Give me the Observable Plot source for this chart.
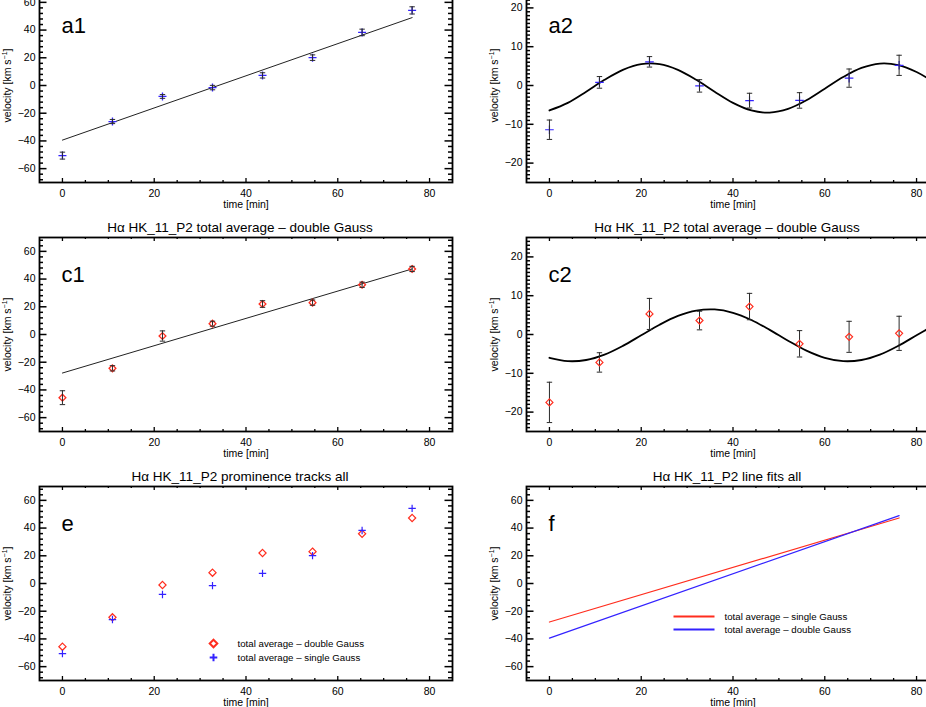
<!DOCTYPE html>
<html><head><meta charset="utf-8">
<script src="https://cdn.jsdelivr.net/npm/d3@7"></script>
<script src="https://cdn.jsdelivr.net/npm/@observablehq/plot@0.6"></script>
<style>
html,body{margin:0;padding:0;background:#fff;}
#fig{position:relative;width:926px;height:707px;overflow:hidden;background:#fff;}
.panel{position:absolute;}
</style></head><body><div id="fig"></div>
<script>
// ---- data ----
const times = [0, 10.9, 21.8, 32.7, 43.6, 54.5, 65.3, 76.2];
const singleGauss = [-50.6, -26.0, -7.9, -1.5, 7.3, 20.1, 38.3, 54.2];
const doubleGauss = [-45.6, -24.4, -1.1, 7.8, 22.0, 23.0, 35.9, 47.3];
const singleResid = [-11.4, 0.8, 6.1, -0.1, -3.9, -3.85, 1.9, 5.2];
const doubleResid = [-17.5, -7.2, 5.3, 3.6, 7.2, -2.4, -0.6, 0.3];
const singleErr = [2.5, 1.5, 1.35, 1.6, 1.9, 2.0, 2.35, 2.6];
const doubleErrTotal = [5.0, 1.9, 3.7, 1.8, 2.4, 1.9, 1.9, 1.9];
const doubleErrResid = [5.2, 2.5, 4.0, 2.4, 3.4, 3.4, 4.0, 4.4];
const fitTimes = [0, 76.2];
const singleFit = [-39.4, 49.0];
const doubleFit = [-27.8, 47.3];
const curveTimes = [0,4,8,12,16,20,24,28,32,36,40,44,48,52,56,60,64,68,72,76,80,84];
const singleSine = [-6.43,-4.48,-1.62,1.46,4.04,5.51,5.51,4.04,1.46,-1.62,-4.48,-6.43,-6.99,-6.05,-3.82,-0.84,2.17,4.53,5.65,5.27,3.48,0.71];
const doubleSine = [-6.00,-6.86,-6.57,-5.18,-2.92,-0.20,2.52,4.78,6.17,6.46,5.60,3.74,1.19,-1.59,-4.14,-6.00,-6.86,-6.57,-5.18,-2.92,-0.20,2.52];
const titleDouble = "H\u03b1 HK_11_P2 total average \u2013 double Gauss";
const titleTracks = "H\u03b1 HK_11_P2 prominence tracks all";
const titleFits = "H\u03b1 HK_11_P2 line fits all";
const legendE = ["total average \u2013 double Gauss", "total average \u2013 single Gauss"];
const legendF = ["total average \u2013 single Gauss", "total average \u2013 double Gauss"];
const xMajor = [0, 20, 40, 60, 80];
const velMajor = [-60, -40, -20, 0, 20, 40, 60];
const residMajor = [-20, -10, 0, 10, 20];

// ---- styles ----
const RED = "#ff2d1e", BLUE = "#3322ff", BAR = "#2a2a2a";
const FW = 413, FH = 194;
const FONT = "'Liberation Sans', Arial, Helvetica, sans-serif";

const plusSym = {draw(c, s){const r=Math.sqrt(s/Math.PI); c.moveTo(-r,0); c.lineTo(r,0); c.moveTo(0,-r); c.lineTo(0,r);}};
const diamondSym = {draw(c, s){const r=Math.sqrt(s/Math.PI); c.moveTo(0,-r); c.lineTo(r,0); c.lineTo(0,r); c.lineTo(-r,0); c.closePath();}};
const hlineSym = {draw(c, s){const r=Math.sqrt(s/Math.PI); c.moveTo(-r,0); c.lineTo(r,0);}};

const rows = (vals, errs) => times.map((t, i) => ({t, v: vals[i], e: errs ? errs[i] : 0}));
const series = (xs, ys) => xs.map((t, i) => ({t, v: ys[i]}));

function errorMarks(data) {
  return [
    Plot.ruleX(data, {x: "t", y1: d => d.v - d.e, y2: d => d.v + d.e, stroke: BAR, strokeWidth: 1}),
    Plot.dot(data, {x: "t", y: d => d.v - d.e, symbol: hlineSym, r: 2.7, stroke: BAR, fill: "none", strokeWidth: 1}),
    Plot.dot(data, {x: "t", y: d => d.v + d.e, symbol: hlineSym, r: 2.7, stroke: BAR, fill: "none", strokeWidth: 1})
  ];
}

function tickMarks(yMaj, yMin) {
  const xMin = d3.range(5, 85, 5).filter(v => v % 20 !== 0);
  const st = {stroke: "black"};
  return [
    Plot.ruleY(yMaj, {...st, strokeWidth: 1.5, insetRight: FW - 7.5}),
    Plot.ruleY(yMin, {...st, strokeWidth: 1.5, insetRight: FW - 4}),
    Plot.ruleY(yMaj, {...st, strokeWidth: 1.5, insetLeft: FW - 7.5}),
    Plot.ruleY(yMin, {...st, strokeWidth: 1.5, insetLeft: FW - 4}),
    Plot.ruleX(xMajor, {...st, strokeWidth: 1.3, insetTop: FH - 4}),
    Plot.ruleX(xMin, {...st, strokeWidth: 1.3, insetTop: FH - 2}),
    Plot.ruleX(xMajor, {...st, strokeWidth: 1.3, insetBottom: FH - 4}),
    Plot.ruleX(xMin, {...st, strokeWidth: 1.3, insetBottom: FH - 2})
  ];
}

const fig = document.getElementById("fig");

function panel({col, row, yDomain, yMajor, yMinor, title, letter, marks}) {
  const L = col === 0 ? {left: 0, width: 463, mL: 39} : {left: 463, width: 490, mL: 63};
  const mT = 30, mB = 36;
  const top = [-12, 237, 486][row] - mT;
  const plot = Plot.plot({
    width: L.width, height: mT + FH + mB,
    marginLeft: L.mL, marginRight: L.width - L.mL - FW, marginTop: mT, marginBottom: mB,
    style: {background: "transparent", overflow: "visible", maxWidth: "none", fontFamily: FONT, fontSize: "10.5px", color: "black"},
    x: {domain: [-5, 85], ticks: xMajor, tickSize: 0, tickPadding: 7, label: null},
    y: {domain: yDomain, ticks: yMajor, tickSize: 0, tickPadding: 4, label: null},
    marks: [
      ...marks,
      ...tickMarks(yMajor, yMinor),
      Plot.frame({stroke: "black", strokeWidth: 1.8}),
      Plot.text([letter], {text: d => d, frameAnchor: "top-left", dx: 22, dy: 44, lineAnchor: "bottom", textAnchor: "start", fontSize: 22}),
      Plot.text(["time [min]"], {text: d => d, frameAnchor: "bottom", dy: 22, lineAnchor: "middle", textAnchor: "middle", fontSize: 10.5}),
      Plot.text(["VELLABEL"], {text: d => d, frameAnchor: "left", dx: -32, rotate: -90, lineAnchor: "middle", textAnchor: "middle", fontSize: 10.5}),
      ...(title ? [Plot.text([title], {text: d => d, frameAnchor: "top", dx: -6, dy: -10, lineAnchor: "middle", textAnchor: "middle", fontSize: 13.5})] : [])
    ]
  });
  d3.select(plot).selectAll("text").filter(function() { return this.textContent === "VELLABEL"; })
    .html('velocity [km s<tspan dy="-4" font-size="7">\u22121</tspan><tspan dy="4">]</tspan>');
  const div = document.createElement("div");
  div.className = "panel";
  div.style.left = L.left + "px";
  div.style.top = top + "px";
  div.style.width = L.width + "px";
  div.appendChild(plot);
  fig.appendChild(div);
}

const velMinor = d3.range(-68, 69, 4).filter(v => v % 20 !== 0);
const residMinor = d3.range(-24, 25, 1).filter(v => v % 10 !== 0);
const legendText = (s, dy) => Plot.text([s], {text: d => d, frameAnchor: "top-left", dx: 198, dy, lineAnchor: "middle", textAnchor: "start", fontSize: 9.7});

// a1
panel({col: 0, row: 0, yDomain: [-70, 70], yMajor: velMajor, yMinor: velMinor, letter: "a1", marks: [
  Plot.line(series(fitTimes, singleFit), {x: "t", y: "v", stroke: "#222", strokeWidth: 1}),
  Plot.dot(rows(singleGauss), {x: "t", y: "v", symbol: plusSym, r: 4, stroke: BLUE, fill: "none", strokeWidth: 1.3}),
  ...errorMarks(rows(singleGauss, singleErr))
]});
// a2
panel({col: 1, row: 0, yDomain: [-25, 25], yMajor: residMajor, yMinor: residMinor, letter: "a2", marks: [
  Plot.line(series(curveTimes, singleSine), {x: "t", y: "v", stroke: "black", strokeWidth: 1.8, curve: "catmull-rom"}),
  Plot.dot(rows(singleResid), {x: "t", y: "v", symbol: plusSym, r: 4.3, stroke: BLUE, fill: "none", strokeWidth: 1.2}),
  ...errorMarks(rows(singleResid, singleErr))
]});
// c1
panel({col: 0, row: 1, yDomain: [-70, 70], yMajor: velMajor, yMinor: velMinor, letter: "c1", title: titleDouble, marks: [
  Plot.line(series(fitTimes, doubleFit), {x: "t", y: "v", stroke: "#222", strokeWidth: 1}),
  Plot.dot(rows(doubleGauss), {x: "t", y: "v", symbol: diamondSym, r: 3.4, stroke: RED, fill: "none", strokeWidth: 1.3}),
  ...errorMarks(rows(doubleGauss, doubleErrTotal))
]});
// c2
panel({col: 1, row: 1, yDomain: [-25, 25], yMajor: residMajor, yMinor: residMinor, letter: "c2", title: titleDouble, marks: [
  Plot.line(series(curveTimes, doubleSine), {x: "t", y: "v", stroke: "black", strokeWidth: 1.8, curve: "catmull-rom"}),
  ...errorMarks(rows(doubleResid, doubleErrResid)),
  Plot.dot(rows(doubleResid), {x: "t", y: "v", symbol: diamondSym, r: 3.5, stroke: RED, fill: "none", strokeWidth: 1.2})
]});
// e
panel({col: 0, row: 2, yDomain: [-70, 70], yMajor: velMajor, yMinor: velMinor, letter: "e", title: titleTracks, marks: [
  Plot.dot(rows(doubleGauss), {x: "t", y: "v", symbol: diamondSym, r: 3.6, stroke: RED, fill: "none", strokeWidth: 1.2}),
  Plot.dot(rows(singleGauss), {x: "t", y: "v", symbol: plusSym, r: 3.7, stroke: BLUE, fill: "none", strokeWidth: 1.2}),
  Plot.dot([0], {frameAnchor: "top-left", dx: 174, dy: 157, symbol: diamondSym, r: 3.8, stroke: RED, fill: "none", strokeWidth: 2}),
  Plot.dot([0], {frameAnchor: "top-left", dx: 174, dy: 171, symbol: plusSym, r: 3.8, stroke: BLUE, fill: "none", strokeWidth: 2}),
  legendText(legendE[0], 157),
  legendText(legendE[1], 171)
]});
// f
panel({col: 1, row: 2, yDomain: [-70, 70], yMajor: velMajor, yMinor: velMinor, letter: "f", title: titleFits, marks: [
  Plot.line(series(fitTimes, doubleFit), {x: "t", y: "v", stroke: RED, strokeWidth: 1.2}),
  Plot.line(series(fitTimes, singleFit), {x: "t", y: "v", stroke: BLUE, strokeWidth: 1.2}),
  Plot.dot([0], {frameAnchor: "top-left", dx: 167.5, dy: 130, symbol: hlineSym, r: 20.5, stroke: RED, fill: "none", strokeWidth: 1.8}),
  Plot.dot([0], {frameAnchor: "top-left", dx: 167.5, dy: 143, symbol: hlineSym, r: 20.5, stroke: BLUE, fill: "none", strokeWidth: 1.8}),
  legendText(legendF[0], 130),
  legendText(legendF[1], 143)
]});
</script>
</body></html>
